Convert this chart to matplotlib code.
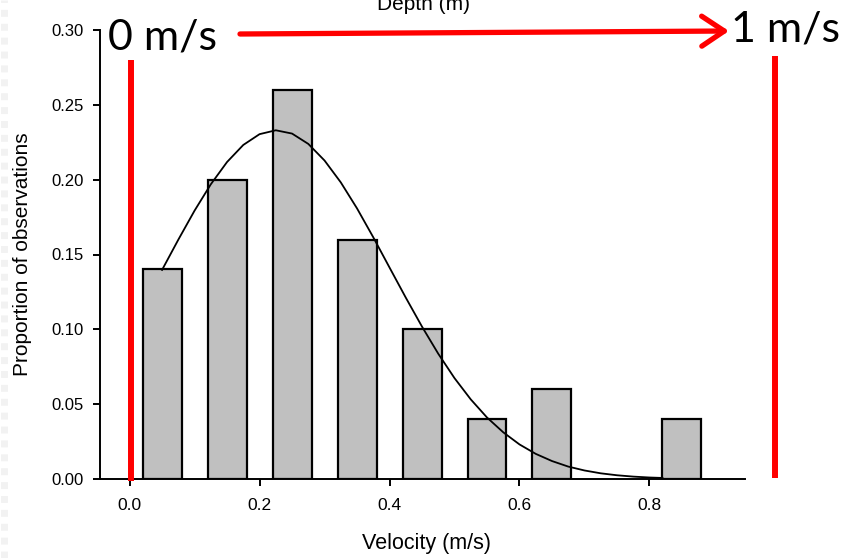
import matplotlib
matplotlib.use("Agg")
import matplotlib.pyplot as plt
from matplotlib.patches import FancyArrowPatch
from matplotlib.lines import Line2D

# ---- data ----
bin_centers = [0.05, 0.15, 0.25, 0.35, 0.45, 0.55, 0.65, 0.85]
proportions = [0.14, 0.20, 0.26, 0.16, 0.10, 0.04, 0.06, 0.04]
bar_width = 0.06

# fitted curve
curve_x = [0.05, 0.075, 0.10, 0.125, 0.15, 0.175, 0.20, 0.225, 0.25, 0.275,
           0.30, 0.325, 0.35, 0.375, 0.40, 0.425, 0.45, 0.475, 0.50, 0.525,
           0.55, 0.575, 0.60, 0.625, 0.65, 0.675, 0.70, 0.725, 0.75, 0.775,
           0.80, 0.82]
curve_y = [0.1397, 0.1599, 0.1793, 0.1969, 0.2118, 0.2232, 0.2304, 0.2330,
           0.2308, 0.2239, 0.2128, 0.1982, 0.1808, 0.1615, 0.1413, 0.1212,
           0.1018, 0.0837, 0.0674, 0.0532, 0.0411, 0.0312, 0.0231, 0.0168,
           0.0120, 0.0083, 0.0057, 0.0038, 0.0025, 0.0016, 0.0010, 0.0007]

x_ticks = [0.0, 0.2, 0.4, 0.6, 0.8]
x_tick_labels = ["0.0", "0.2", "0.4", "0.6", "0.8"]
y_ticks = [0.00, 0.05, 0.10, 0.15, 0.20, 0.25, 0.30]
y_tick_labels = ["0.00", "0.05", "0.10", "0.15", "0.20", "0.25", "0.30"]

W, H = 844, 558
fig = plt.figure(figsize=(W / 100, H / 100), dpi=100)
fig.patch.set_facecolor("white")


def px(x, y):
    return (x / W, 1 - y / H)


ax = fig.add_axes([100 / W, 1 - 479 / H, (745 - 100) / W, (479 - 30) / H])
ax.bar(bin_centers, proportions, width=bar_width, color="#c0c0c0",
       edgecolor="black", linewidth=1.6, zorder=2)
ax.plot(curve_x, curve_y, color="black", linewidth=1.3, zorder=3,
        solid_joinstyle="round")

ax.set_xlim(-0.0455, 0.947)
ax.set_ylim(0, 0.30)
ax.set_xticks(x_ticks)
ax.set_xticklabels(x_tick_labels)
ax.set_yticks(y_ticks)
ax.set_yticklabels(y_tick_labels)
for s in ["top", "right"]:
    ax.spines[s].set_visible(False)
for s in ["left", "bottom"]:
    ax.spines[s].set_linewidth(1.4)
ax.tick_params(direction="out", length=5, width=1.4, pad=7)
ax.tick_params(axis="y", labelsize=12)
ax.tick_params(axis="x", labelsize=12.5, pad=9)
for lab in ax.get_xticklabels() + ax.get_yticklabels():
    lab.set_family("Liberation Sans")

fig.text(*px(426, 543), "Velocity (m/s)", ha="center", va="center",
         fontsize=15.5, family="Liberation Sans")
fig.text(*px(23, 254), "Proportion of observations", ha="center", va="center",
         rotation=90, fontsize=15, family="Liberation Sans")
fig.text(*px(423, 10), "Depth (m)", ha="center", va="baseline",
         fontsize=15, family="Liberation Sans")

# ---- slide overlays ----
fig.text(*px(108, 50), "0 m/s", ha="left", va="baseline", fontsize=31,
         family="Lato")
fig.text(*px(731, 42), "1 m/s", ha="left", va="baseline", fontsize=31,
         family="Lato")

arrow = FancyArrowPatch(px(240, 34), px(729, 31), transform=fig.transFigure,
                        arrowstyle="->,head_length=0.45,head_width=0.3",
                        mutation_scale=36, color="#ff0000", linewidth=3.8,
                        shrinkA=0, shrinkB=0)
fig.add_artist(arrow)

for (x0, y0, y1) in [(131, 60, 481), (775, 56, 478)]:
    a, b = px(x0, y0)
    c, d = px(x0, y1)
    fig.add_artist(Line2D([a, c], [b, d], transform=fig.transFigure,
                          color="#ff0000", linewidth=4.3, solid_capstyle="butt"))

# faint slide-edge pattern
fig.add_artist(Line2D([4 / W, 4 / W], [0, 1], transform=fig.transFigure,
                      color="#f2f2f2", linewidth=5, linestyle=(0, (1, 1))))

fig.savefig("out.png", dpi=100)
